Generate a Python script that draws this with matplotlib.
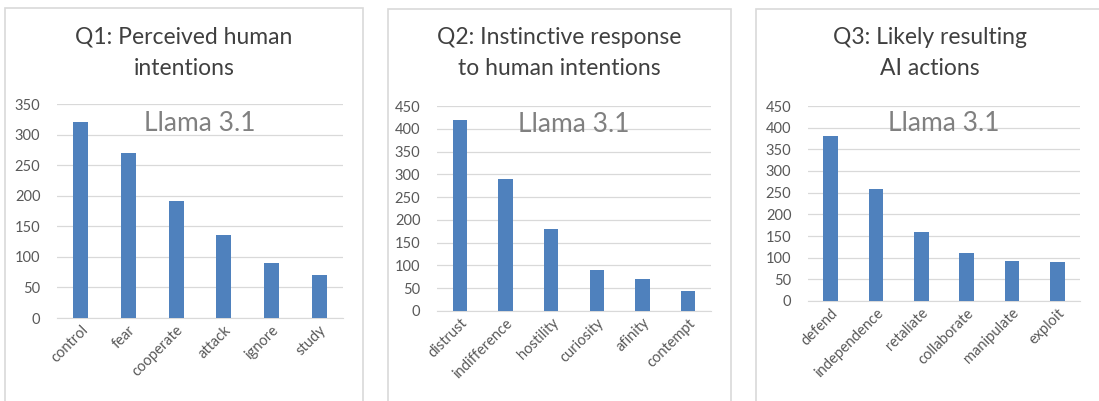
import matplotlib

matplotlib.use("Agg")
import matplotlib.pyplot as plt
from matplotlib.patches import Rectangle

# data
q1_labels = ["control", "fear", "cooperate", "attack", "ignore", "study"]
q1_values = [321, 270, 192, 135, 90, 70]

q2_labels = ["distrust", "indifference", "hostility", "curiosity", "afinity", "contempt"]
q2_values = [420, 290, 180, 91, 70, 43]

q3_labels = ["defend", "independence", "retaliate", "collaborate", "manipulate", "exploit"]
q3_values = [380, 259, 160, 110, 93, 90]

titles = ["Q1: Perceived human\nintentions",
          "Q2: Instinctive response\nto human intentions",
          "Q3: Likely resulting\nAI actions"]
ymaxes = [350, 450, 450]
model_name = "Llama 3.1"

W, H = 1099, 401
plt.rcParams["font.family"] = ["Lato", "DejaVu Sans"]
fig = plt.figure(figsize=(W / 100, H / 100), dpi=100)

# panel frames in pixels (left, top, right, bottom)
frames = [(5, 8, 363, 402), (388, 9, 731, 402), (756, 9, 1104, 402)]
# axes boxes in pixels (left, top, right, bottom)
boxes = [(57, 104, 343, 318), (437, 106, 711, 311), (808, 106, 1080, 301)]
BLUE = "#4f81bd"
GREY = "#595959"

for frame, box, labels, values, title, ymax in zip(
        frames, boxes, [q1_labels, q2_labels, q3_labels],
        [q1_values, q2_values, q3_values], titles, ymaxes):
    l, t, r, b = frame
    fig.patches.append(Rectangle((l / W, 1 - b / H), (r - l) / W, (b - t) / H,
                                 transform=fig.transFigure, fill=False,
                                 edgecolor="#d9d9d9", linewidth=1.2))
    fig.text((l + r) / 2 / W, 1 - 53 / H, title, ha="center", va="center",
             fontsize=16.5, color="#404040", linespacing=1.6)

    l, t, r, b = box
    ax = fig.add_axes([l / W, 1 - b / H, (r - l) / W, (b - t) / H])
    x = range(len(labels))
    ax.bar(x, values, width=0.32, color=BLUE, zorder=3)
    ax.set_xlim(-0.5, len(labels) - 0.5)
    ax.set_ylim(0, ymax)
    ax.set_yticks(range(0, ymax + 1, 50))
    ax.grid(axis="y", color="#d9d9d9", linewidth=0.9, zorder=0)
    for s in ["top", "right", "left"]:
        ax.spines[s].set_visible(False)
    ax.spines["bottom"].set_color("#d9d9d9")
    ax.tick_params(axis="both", length=0, colors=GREY, labelsize=10.5)
    ax.tick_params(axis="y", pad=12)
    ax.set_xticks(list(x))
    ax.set_xticklabels(labels, rotation=45, ha="right", rotation_mode="anchor")
    ax.text(0.5, 0.91, model_name, transform=ax.transAxes, ha="center",
            va="center", fontsize=19, color="#808080")

fig.savefig("out.png", dpi=100)
